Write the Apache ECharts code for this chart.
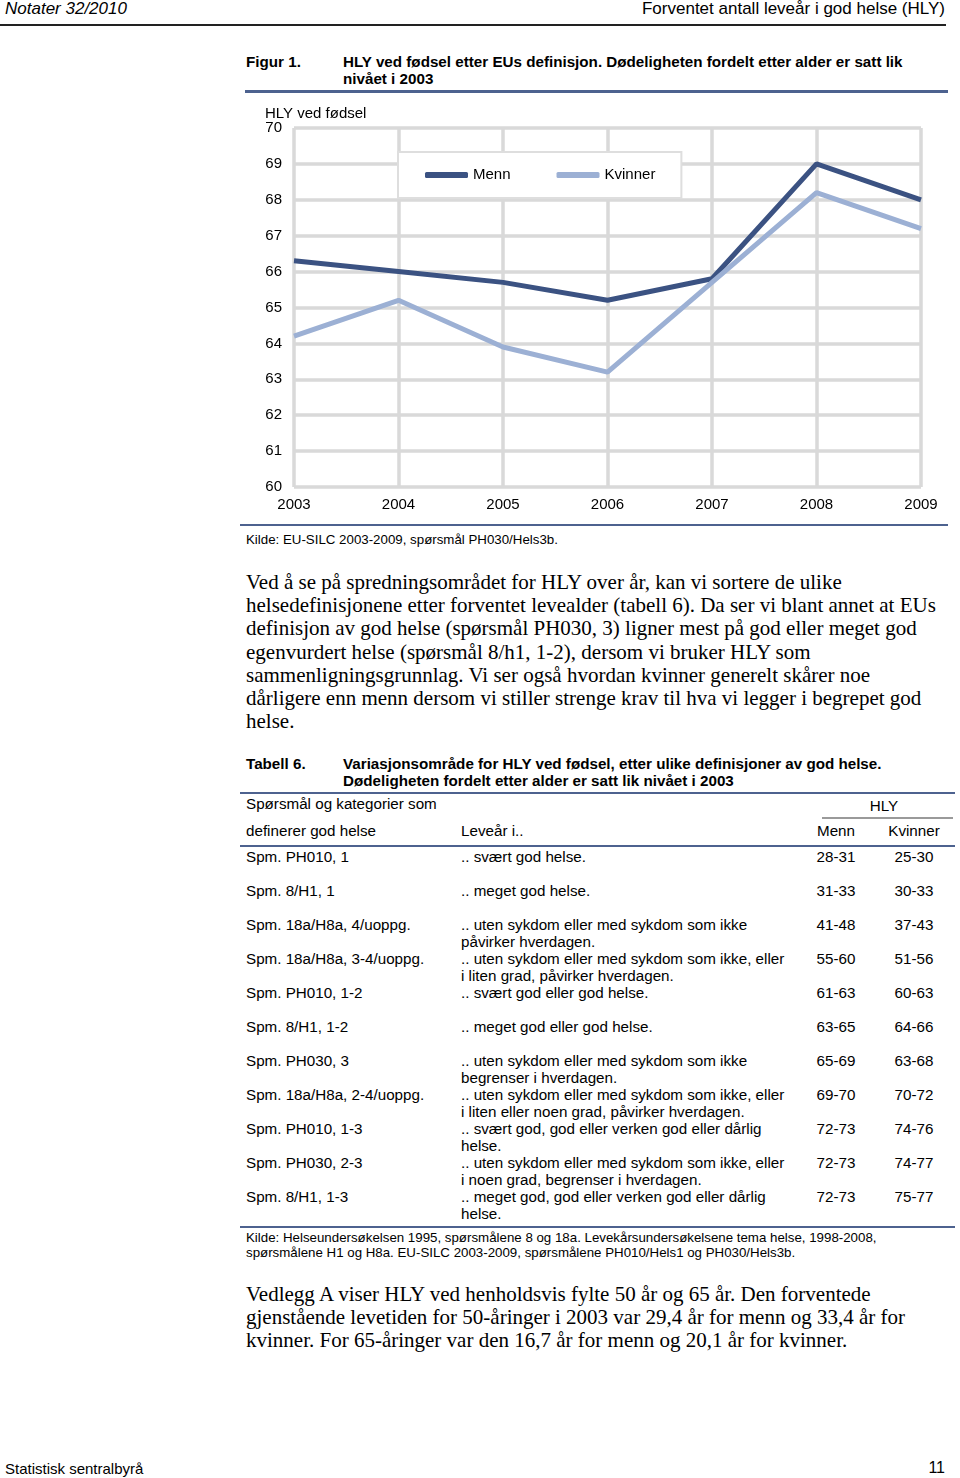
<!DOCTYPE html>
<html>
<head>
<meta charset="utf-8">
<script src="https://cdn.jsdelivr.net/npm/echarts@6/dist/echarts.min.js"></script>
<style>
  html, body { margin:0; padding:0; background:#fff; }
  body { width:960px; height:1478px; position:relative; overflow:hidden; font-family:"Liberation Sans", Arial, sans-serif; color:#000; }
  .t { position:absolute; white-space:nowrap; }
  .narrow { font-family:"Liberation Sans Narrow", "Liberation Sans", Arial, sans-serif; }
  .serif { font-family:"Liberation Serif", "Times New Roman", serif; }
  .hr { position:absolute; }
  #chart { position:absolute; left:240px; top:100px; width:720px; height:420px; }
</style>
</head>
<body>
<div id="chart"></div>
<script>
// ---- chart data ----
const years = ['2003', '2004', '2005', '2006', '2007', '2008', '2009'];
const menn = [66.3, 66.0, 65.7, 65.2, 65.8, 69.0, 68.0];
const kvinner = [64.2, 65.2, 63.9, 63.2, 65.7, 68.2, 67.2];
const seriesNames = ['Menn', 'Kvinner'];
const yMin = 60, yMax = 70, yStep = 1;
const yTitle = 'HLY ved fødsel';

// ---- table data ----
const tblCol1 = ['Spm. PH010, 1', 'Spm. 8/H1, 1', 'Spm. 18a/H8a, 4/uoppg.', 'Spm. 18a/H8a, 3-4/uoppg.', 'Spm. PH010, 1-2', 'Spm. 8/H1, 1-2', 'Spm. PH030, 3', 'Spm. 18a/H8a, 2-4/uoppg.', 'Spm. PH010, 1-3', 'Spm. PH030, 2-3', 'Spm. 8/H1, 1-3'];
const tblCol2 = [
  ['.. svært god helse.'],
  ['.. meget god helse.'],
  ['.. uten sykdom eller med sykdom som ikke', 'påvirker hverdagen.'],
  ['.. uten sykdom eller med sykdom som ikke, eller', 'i liten grad, påvirker hverdagen.'],
  ['.. svært god eller god helse.'],
  ['.. meget god eller god helse.'],
  ['.. uten sykdom eller med sykdom som ikke', 'begrenser i hverdagen.'],
  ['.. uten sykdom eller med sykdom som ikke, eller', 'i liten eller noen grad, påvirker hverdagen.'],
  ['.. svært god, god eller verken god eller dårlig', 'helse.'],
  ['.. uten sykdom eller med sykdom som ikke, eller', 'i noen grad, begrenser i hverdagen.'],
  ['.. meget god, god eller verken god eller dårlig', 'helse.']
];
const tblMenn = ['28-31', '31-33', '41-48', '55-60', '61-63', '63-65', '65-69', '69-70', '72-73', '72-73', '72-73'];
const tblKvinner = ['25-30', '30-33', '37-43', '51-56', '60-63', '64-66', '63-68', '70-72', '74-76', '74-77', '75-77'];

const para1 = [
  'Ved å se på spredningsområdet for HLY over år, kan vi sortere de ulike',
  'helsedefinisjonene etter forventet levealder (tabell 6). Da ser vi blant annet at EUs',
  'definisjon av god helse (spørsmål PH030, 3) ligner mest på god eller meget god',
  'egenvurdert helse (spørsmål 8/h1, 1-2), dersom vi bruker HLY som',
  'sammenligningsgrunnlag. Vi ser også hvordan kvinner generelt skårer noe',
  'dårligere enn menn dersom vi stiller strenge krav til hva vi legger i begrepet god',
  'helse.'
];
const para2 = [
  'Vedlegg A viser HLY ved henholdsvis fylte 50 år og 65 år. Den forventede',
  'gjenstående levetiden for 50-åringer i 2003 var 29,4 år for menn og 33,4 år for',
  'kvinner. For 65-åringer var den 16,7 år for menn og 20,1 år for kvinner.'
];

// ---- page layout helpers ----
function txt(x, cy, s, opts) {
  opts = opts || {};
  const fs = opts.fs || 15;
  const lh = Math.round(fs * 1.25);
  const d = document.createElement('div');
  d.className = 't ' + (opts.cls || '');
  d.textContent = s;
  d.style.fontSize = fs + 'px';
  d.style.lineHeight = lh + 'px';
  d.style.top = (cy - lh / 2) + 'px';
  if (opts.bold) d.style.fontWeight = 'bold';
  if (opts.italic) d.style.fontStyle = 'italic';
  if (opts.align === 'right') { d.style.right = (960 - x) + 'px'; }
  else if (opts.align === 'center') { d.style.left = (x - 100) + 'px'; d.style.width = '200px'; d.style.textAlign = 'center'; }
  else d.style.left = x + 'px';
  document.body.appendChild(d);
}
function hr(x1, x2, y, h, color) {
  const d = document.createElement('div');
  d.className = 'hr';
  d.style.left = x1 + 'px'; d.style.width = (x2 - x1) + 'px';
  d.style.top = (y - h / 2) + 'px'; d.style.height = h + 'px';
  d.style.background = color;
  document.body.appendChild(d);
}
const blue = '#4d628f';
const TF = 15.2;

// header
txt(5, 8, 'Notater 32/2010', {fs: 17, italic: true, cls: 'narrow'});
txt(945, 8, 'Forventet antall leveår i god helse (HLY)', {fs: 17, align: 'right', cls: 'narrow'});
hr(0, 946, 25, 1.5, '#222');

// figure title
txt(246, 61, 'Figur 1.', {fs: 15.2, bold: true, cls: 'narrow'});
txt(343, 61, 'HLY ved fødsel etter EUs definisjon. Dødeligheten fordelt etter alder er satt lik', {fs: 15.2, bold: true, cls: 'narrow'});
txt(343, 78, 'nivået i 2003', {fs: 15.2, bold: true, cls: 'narrow'});
hr(245, 948, 91, 3, blue);

// figure source
hr(240, 948, 525, 2, blue);
txt(246, 539, 'Kilde: EU-SILC 2003-2009, spørsmål PH030/Hels3b.', {fs: 13.3});

// paragraph 1
para1.forEach((s, i) => txt(246, 582 + i * 23.2, s, {fs: 21, cls: 'serif'}));

// table
txt(246, 763, 'Tabell 6.', {fs: 15.2, bold: true, cls: 'narrow'});
txt(343, 763, 'Variasjonsområde for HLY ved fødsel, etter ulike definisjoner av god helse.', {fs: 15.2, bold: true, cls: 'narrow'});
txt(343, 780, 'Dødeligheten fordelt etter alder er satt lik nivået i 2003', {fs: 15.2, bold: true, cls: 'narrow'});
hr(240, 955, 793, 2.5, blue);
txt(246, 803, 'Spørsmål og kategorier som', {fs: TF});
txt(884, 805, 'HLY', {fs: TF, align: 'center'});
hr(822, 953, 818, 1.5, '#9a9a9a');
txt(246, 830, 'definerer god helse', {fs: TF});
txt(461, 830, 'Leveår i..', {fs: TF});
txt(836, 830, 'Menn', {fs: TF, align: 'center'});
txt(914, 830, 'Kvinner', {fs: TF, align: 'center'});
hr(240, 955, 846, 2.5, blue);
tblCol1.forEach((s, i) => {
  const cy = 856 + i * 34;
  txt(246, cy, s, {fs: TF});
  tblCol2[i].forEach((l, j) => txt(461, cy + j * 17, l, {fs: TF}));
  txt(836, cy, tblMenn[i], {fs: TF, align: 'center'});
  txt(914, cy, tblKvinner[i], {fs: TF, align: 'center'});
});
hr(240, 955, 1227, 2.5, blue);
txt(246, 1237, 'Kilde: Helseundersøkelsen 1995, spørsmålene 8 og 18a. Levekårsundersøkelsene tema helse, 1998-2008,', {fs: 13.3});
txt(246, 1252, 'spørsmålene H1 og H8a. EU-SILC 2003-2009, spørsmålene PH010/Hels1 og PH030/Hels3b.', {fs: 13.3});

// paragraph 2
para2.forEach((s, i) => txt(246, 1294 + i * 23.2, s, {fs: 21, cls: 'serif'}));

// footer
txt(5, 1468, 'Statistisk sentralbyrå', {fs: 15, cls: 'narrow'});
txt(945, 1468, '11', {fs: 16, align: 'right', cls: 'narrow'});

// ---- chart ----
const font = '"Liberation Sans", Arial, sans-serif';
const chart = echarts.init(document.getElementById('chart'), null, {renderer: 'canvas'});
const gridColor = '#d9d9d9';
chart.setOption({
  animation: false,
  backgroundColor: '#fff',
  grid: {left: 54, right: 39, top: 28, bottom: 33, containLabel: false},
  graphic: [{
    type: 'text', left: 25, top: 6,
    style: {text: yTitle, fontSize: 15, fontFamily: font, fill: '#000'}
  }],
  legend: {
    left: 158, top: 52,
    padding: [14, 26, 14, 27],
    icon: 'roundRect',
    itemWidth: 43, itemHeight: 6, itemGap: 46,
    backgroundColor: '#fff', borderColor: '#dedede', borderWidth: 2,
    textStyle: {fontSize: 15, color: '#000', fontFamily: font, lineHeight: 18},
    data: seriesNames
  },
  xAxis: {
    type: 'category', data: years, boundaryGap: false,
    axisLine: {show: false}, axisTick: {show: false},
    axisLabel: {fontSize: 15, color: '#000', fontFamily: font, margin: 10},
    splitLine: {show: true, lineStyle: {color: gridColor, width: 3.5}}
  },
  yAxis: {
    type: 'value', min: yMin, max: yMax, interval: yStep,
    axisLine: {show: false}, axisTick: {show: false},
    axisLabel: {fontSize: 15, color: '#000', fontFamily: font, margin: 12},
    splitLine: {show: true, lineStyle: {color: gridColor, width: 3.5}}
  },
  series: [
    {name: seriesNames[0], type: 'line', data: menn, symbol: 'none', lineStyle: {width: 5, color: '#3b5282'}, itemStyle: {color: '#3b5282'}},
    {name: seriesNames[1], type: 'line', data: kvinner, symbol: 'none', lineStyle: {width: 5, color: '#9cb0d4'}, itemStyle: {color: '#9cb0d4'}}
  ]
});
</script>
</body>
</html>
